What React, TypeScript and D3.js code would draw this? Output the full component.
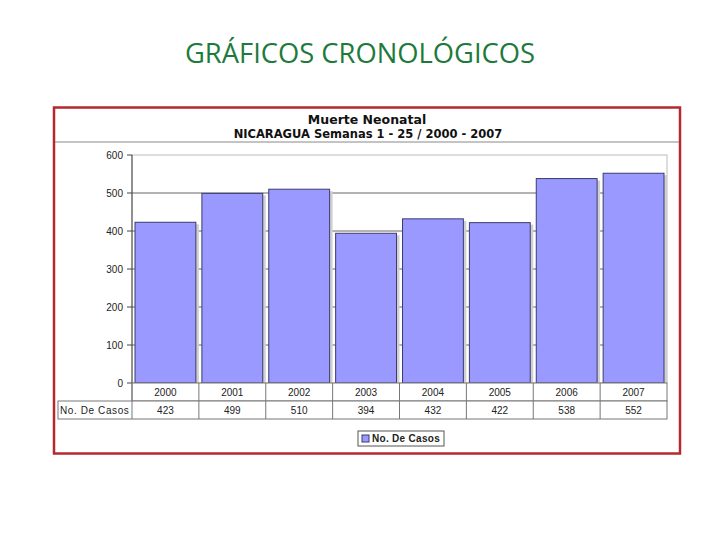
import React from "react";
import * as d3 from "d3";

const years = ["2000", "2001", "2002", "2003", "2004", "2005", "2006", "2007"];
const casos = [423, 499, 510, 394, 432, 422, 538, 552];
const yTicks = [0, 100, 200, 300, 400, 500, 600];
const seriesName = "No. De Casos";
const pageTitle = "GRÁFICOS CRONOLÓGICOS";
const chartTitle = "Muerte Neonatal";
const chartSubtitle = "NICARAGUA Semanas 1 - 25 / 2000 - 2007";

export default function App() {
  const plotL = 132, plotR = 667, plotT = 155, plotB = 383;
  const x = d3.scaleBand().domain(years).range([plotL, plotR]).paddingInner(0.09).paddingOuter(0.045);
  const xc = d3.scaleBand().domain(years).range([plotL, plotR]);
  const y = d3.scaleLinear().domain([0, 600]).range([plotB, plotT]);
  const rowH = 18;
  const tableL = 58;
  const font = "Arial, 'Liberation Sans', sans-serif";
  const tahoma = "'DejaVu Sans', Verdana, sans-serif";
  return (
    <svg width={720} height={540} style={{ position: "absolute", left: 0, top: 0, background: "#fff" }}>
      <text x={360} y={63} textAnchor="middle" fontFamily="'Open Sans', sans-serif" fontSize={26.5} textLength={350} lengthAdjust="spacingAndGlyphs" fill="#1e7a3c">{pageTitle}</text>
      <rect x={54} y={107.5} width={626} height={346} fill="#fff" stroke="#b5282e" strokeWidth={2.5} />
      <line x1={55} x2={679} y1={142} y2={142} stroke="#888" strokeWidth={1} />
      <text x={367} y={124} textAnchor="middle" fontFamily={tahoma} fontWeight="bold" fontSize={12.5} fill="#111">{chartTitle}</text>
      <text x={368} y={138} textAnchor="middle" fontFamily={tahoma} fontWeight="bold" fontSize={11.5} fill="#111">{chartSubtitle}</text>
      {/* plot frame */}
      <rect x={plotL} y={plotT} width={plotR - plotL} height={plotB - plotT} fill="#fff" stroke="#bbb" strokeWidth={1} />
      {yTicks.filter(t => t > 0 && t < 600).map(t => (
        <line key={t} x1={plotL} x2={plotR} y1={y(t)} y2={y(t)} stroke="#666" strokeWidth={1} />
      ))}
      {/* axis */}
      <line x1={plotL} x2={plotL} y1={plotT} y2={plotB} stroke="#444" />
      {yTicks.map(t => (
        <g key={t}>
          <line x1={plotL - 5} x2={plotL} y1={y(t)} y2={y(t)} stroke="#444" />
          <text x={plotL - 9} y={y(t) + 3.5} textAnchor="end" fontFamily={font} fontSize={10} fill="#222">{t}</text>
        </g>
      ))}
      {/* bars */}
      {years.map((yr, i) => (
        <g key={yr}>
          <rect x={x(yr)! + 3} y={y(casos[i]) + 2} width={x.bandwidth()} height={plotB - y(casos[i]) - 2} fill="#d0d0d0" />
          <rect x={x(yr)!} y={y(casos[i])} width={x.bandwidth()} height={plotB - y(casos[i])} fill="#9999ff" stroke="#3c3c6e" strokeWidth={1} />
        </g>
      ))}
      {/* data table */}
      <rect x={plotL} y={plotB} width={plotR - plotL} height={rowH} fill="#fff" stroke="#777" />
      <rect x={tableL} y={plotB + rowH} width={plotR - tableL} height={rowH} fill="#fff" stroke="#777" />
      {years.map((yr, i) => (
        <g key={yr}>
          <line x1={xc(yr)!} x2={xc(yr)!} y1={plotB} y2={plotB + 2 * rowH} stroke="#777" />
          <text x={xc(yr)! + xc.bandwidth() / 2} y={plotB + 13} textAnchor="middle" fontFamily={font} fontSize={10} fill="#222">{yr}</text>
          <text x={xc(yr)! + xc.bandwidth() / 2} y={plotB + rowH + 13} textAnchor="middle" fontFamily={font} fontSize={10} fill="#222">{casos[i]}</text>
        </g>
      ))}
      <text x={tableL + 2} y={plotB + rowH + 13} fontFamily={font} fontSize={10} fill="#222" letterSpacing={0.6}>{seriesName}</text>
      {/* legend */}
      <rect x={358} y={431} width={86} height={15} fill="#fff" stroke="#555" />
      <rect x={362} y={435} width={7} height={7} fill="#9999ff" stroke="#3c3c6e" />
      <text x={372} y={442} fontFamily={font} fontWeight="bold" fontSize={10} letterSpacing={0.3} fill="#222">{seriesName}</text>
    </svg>
  );
}
